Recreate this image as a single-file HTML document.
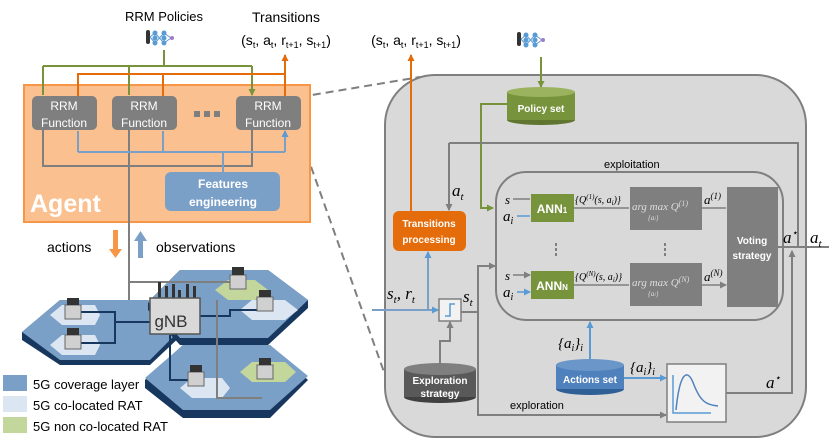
<!DOCTYPE html>
<html><head><meta charset="utf-8"><style>
html,body{margin:0;padding:0;background:#fff}
svg{display:block}
text{font-family:"Liberation Sans",sans-serif}
.m{font-family:"Liberation Serif",serif;font-style:italic}
</style></head><body>
<svg width="830" height="445" viewBox="0 0 830 445" xmlns="http://www.w3.org/2000/svg">
<defs>
<marker id="ag" markerUnits="userSpaceOnUse" markerWidth="7" markerHeight="7" refX="6" refY="3.5" orient="auto"><path d="M0,0L7,3.5L0,7z" fill="#77933c"/></marker>
<marker id="ao" markerUnits="userSpaceOnUse" markerWidth="7" markerHeight="7" refX="6" refY="3.5" orient="auto"><path d="M0,0L7,3.5L0,7z" fill="#e46c0a"/></marker>
<marker id="ab" markerUnits="userSpaceOnUse" markerWidth="7" markerHeight="7" refX="6" refY="3.5" orient="auto"><path d="M0,0L7,3.5L0,7z" fill="#5b9bd5"/></marker>
<marker id="ay" markerUnits="userSpaceOnUse" markerWidth="7" markerHeight="7" refX="6" refY="3.5" orient="auto"><path d="M0,0L7,3.5L0,7z" fill="#7f7f7f"/></marker>
<g id="nn"><rect x="0" y="0" width="4" height="14" fill="#333" rx="2"/><g fill="#5b9bd5"><circle cx="9" cy="3" r="2.5"/><circle cx="9" cy="8" r="2.5"/><circle cx="9" cy="13" r="2.5"/><circle cx="18" cy="3" r="2.5"/><circle cx="18" cy="8" r="2.5"/><circle cx="18" cy="13" r="2.5"/></g><path d="M4,7L9,3M4,7L9,13M9,3L18,13M9,13L18,3M18,3L25,8M18,13L25,8" stroke="#5b9bd5" stroke-width="1"/><circle cx="26" cy="8" r="2" fill="#a07cc5"/></g>
</defs>

<line x1="300" y1="97" x2="420" y2="77" stroke="#7f7f7f" stroke-width="2" stroke-dasharray="8,5"/>
<line x1="298" y1="130" x2="384" y2="372" stroke="#7f7f7f" stroke-width="2" stroke-dasharray="8,5"/>

<text x="164" y="21" font-size="13" text-anchor="middle">RRM Policies</text>
<use href="#nn" x="146" y="30"/>
<text x="286" y="22" font-size="14" text-anchor="middle">Transitions</text>
<text x="286" y="45" font-size="14" text-anchor="middle">(s<tspan font-size="9" dy="3">t</tspan><tspan dy="-3">, a</tspan><tspan font-size="9" dy="3">t</tspan><tspan dy="-3">, r</tspan><tspan font-size="9" dy="3">t+1</tspan><tspan dy="-3">, s</tspan><tspan font-size="9" dy="3">t+1</tspan><tspan dy="-3">)</tspan></text>
<text x="416" y="45" font-size="14" text-anchor="middle">(s<tspan font-size="9" dy="3">t</tspan><tspan dy="-3">, a</tspan><tspan font-size="9" dy="3">t</tspan><tspan dy="-3">, r</tspan><tspan font-size="9" dy="3">t+1</tspan><tspan dy="-3">, s</tspan><tspan font-size="9" dy="3">t+1</tspan><tspan dy="-3">)</tspan></text>

<rect x="24" y="85" width="286" height="137" fill="#fac090" stroke="#f79646" stroke-width="2"/>
<path d="M164,50V66M43,66H252" stroke="#77933c" stroke-width="2" fill="none"/>
<path d="M43,66V95M129,66V95M252,66V95" stroke="#77933c" stroke-width="2" fill="none" marker-end="url(#ag)"/>
<path d="M78,96V74H285M163,96V74" stroke="#e46c0a" stroke-width="2" fill="none"/>
<path d="M285,96V55" stroke="#e46c0a" stroke-width="2" fill="none" marker-end="url(#ao)"/>
<path d="M43,130V166H252V130" stroke="#7f7f7f" stroke-width="2" fill="none"/>
<path d="M129,130V312H148" stroke="#7f7f7f" stroke-width="2" fill="none"/>
<path d="M78,152H285M223,152V172" stroke="#7ba0c8" stroke-width="2" fill="none"/>
<path d="M78,152V131M163,152V131M285,152V131" stroke="#7ba0c8" stroke-width="2" fill="none" marker-end="url(#ab)"/>
<g fill="#7f7f7f"><rect x="32" y="96" width="65" height="34" rx="5"/><rect x="112" y="96" width="65" height="34" rx="5"/><rect x="236" y="96" width="65" height="34" rx="5"/></g>
<g fill="#fff" font-size="12" text-anchor="middle"><text x="64" y="110">RRM</text><text x="64" y="127">Function</text><text x="144" y="110">RRM</text><text x="144" y="127">Function</text><text x="268" y="110">RRM</text><text x="268" y="127">Function</text></g>
<g fill="#7f7f7f"><rect x="194" y="111" width="6" height="6"/><rect x="204" y="111" width="6" height="6"/><rect x="214" y="111" width="6" height="6"/></g>
<rect x="165" y="172" width="115" height="39" rx="6" fill="#7ba0c8"/>
<text x="223" y="188" fill="#fff" font-size="12" font-weight="bold" text-anchor="middle">Features</text>
<text x="223" y="206" fill="#fff" font-size="12" font-weight="bold" text-anchor="middle">engineering</text>
<text x="30" y="212" fill="#fff" font-size="25" font-weight="bold">Agent</text>

<text x="47" y="252" font-size="14">actions</text>
<rect x="113" y="230" width="5" height="20" fill="#f79646"/><path d="M109,249H122L115.5,258z" fill="#f79646"/>
<rect x="138" y="240" width="5" height="18" fill="#7ba0c8"/><path d="M134,241H147L140.5,231z" fill="#7ba0c8"/>
<text x="156" y="252" font-size="14">observations</text>

<g stroke="none">
<polygon points="22,332 60,300 148,300 185,332 150,365 60,365 22,340" fill="#17375e"/>
<polygon points="22,332 60,300 148,300 185,325 150,360 60,360" fill="#7ba0c8"/>
<polygon points="145,380 183,345 270,345 308,380 270,418 183,418 145,388" fill="#17375e"/>
<polygon points="145,378 183,345 270,345 308,376 270,410 183,410" fill="#7ba0c8"/>
<polygon points="148,302 180,270 268,270 308,300 308,308 268,345 180,345 148,310" fill="#17375e"/>
<polygon points="148,302 180,270 268,270 308,300 268,338 180,338" fill="#7ba0c8"/>
<polygon points="50,315 62,305 95,305 100,315 95,325 62,325" fill="#dce6f2"/>
<polygon points="50,345 62,335 95,335 100,345 95,355 62,355" fill="#dce6f2"/>
<polygon points="215,290 228,280 255,280 268,290 255,300 228,300" fill="#c3d69b"/>
<polygon points="240,310 252,300 285,300 298,310 285,320 252,320" fill="#dce6f2"/>
<polygon points="180,388 192,378 222,378 230,388 222,398 192,398" fill="#dce6f2"/>
<polygon points="240,372 252,362 285,362 296,372 285,382 252,382" fill="#c3d69b"/>
</g>
<path d="M80,312H115V322H150M80,343H115V322M200,316H230V310H262M170,335V380H200" stroke="#17375e" stroke-width="2" fill="none"/>
<path d="M129,282H230M217,300V398H262" stroke="#7f7f7f" stroke-width="2" fill="none"/>
<g fill="#d0d0d0" stroke="#666" stroke-width="1">
<rect x="65" y="305" width="16" height="14"/><rect x="65" y="335" width="16" height="14"/><rect x="230" y="275" width="16" height="14"/><rect x="257" y="297" width="16" height="14"/><rect x="188" y="372" width="16" height="14"/><rect x="257" y="365" width="16" height="14"/>
</g>
<g fill="#333"><rect x="67" y="298" width="12" height="7"/><rect x="67" y="328" width="12" height="7"/><rect x="232" y="267" width="12" height="8"/><rect x="259" y="290" width="12" height="7"/><rect x="190" y="365" width="12" height="7"/><rect x="259" y="358" width="12" height="7"/></g>
<g fill="#333"><rect x="158" y="282" width="3" height="20"/><rect x="165" y="286" width="3" height="22"/><rect x="172" y="284" width="3" height="20"/><rect x="178" y="290" width="3" height="16"/><rect x="186" y="284" width="3" height="18"/><rect x="193" y="286" width="3" height="16"/></g>
<rect x="150" y="298" width="50" height="36" fill="#d9d9d9" stroke="#555" stroke-width="1.5"/>
<text x="171" y="327" font-size="17" fill="#333" text-anchor="middle">gNB</text>

<rect x="3" y="375" width="24" height="16" fill="#7ba0c8"/><text x="33" y="389" font-size="13">5G coverage layer</text>
<rect x="3" y="396" width="24" height="16" fill="#dce6f2"/><text x="33" y="410" font-size="13">5G co-located RAT</text>
<rect x="3" y="417" width="24" height="16" fill="#c3d69b"/><text x="33" y="431" font-size="13">5G non co-located RAT</text>

<rect x="385" y="75" width="421" height="362" rx="50" fill="#d9d9d9" stroke="#7f7f7f" stroke-width="2"/>
<use href="#nn" x="517" y="32"/>
<path d="M541,57V87" stroke="#77933c" stroke-width="2" marker-end="url(#ag)"/>
<path d="M507,104H481V208H493" stroke="#77933c" stroke-width="2" fill="none" marker-end="url(#ag)"/>
<ellipse cx="541" cy="120" rx="34" ry="5" fill="#5f7530"/>
<rect x="507" y="92" width="68" height="28" fill="#77933c"/>
<ellipse cx="541" cy="92" rx="34" ry="5" fill="#9bb35f"/>
<text x="541" y="112" font-size="10" font-weight="bold" fill="#fff" text-anchor="middle">Policy set</text>

<path d="M411,211V55" stroke="#e46c0a" stroke-width="2" fill="none" marker-end="url(#ao)"/>
<path d="M449,143H798V247" stroke="#7f7f7f" stroke-width="2" fill="none"/>
<path d="M449,143V210" stroke="#7f7f7f" stroke-width="2" fill="none" marker-end="url(#ay)"/>
<text x="452" y="196" class="m" font-size="17">a<tspan font-size="11" dy="4">t</tspan></text>
<text x="604" y="168" font-size="11">exploitation</text>

<rect x="393" y="211" width="73" height="40" rx="6" fill="#e46c0a"/>
<text x="429" y="227" font-size="10" font-weight="bold" fill="#fff" text-anchor="middle">Transitions</text>
<text x="429" y="243" font-size="10" font-weight="bold" fill="#fff" text-anchor="middle">processing</text>

<rect x="496" y="172" width="287" height="148" rx="30" fill="none" stroke="#7f7f7f" stroke-width="2"/>

<path d="M372,310H438" stroke="#7ba0c8" stroke-width="2" fill="none" marker-end="url(#ab)"/>
<path d="M428,310V252" stroke="#7ba0c8" stroke-width="2" fill="none" marker-end="url(#ab)"/>
<text x="387" y="299" class="m" font-size="17">s<tspan font-size="11" dy="4">t</tspan><tspan dy="-4">, r</tspan><tspan font-size="11" dy="4">t</tspan></text>
<rect x="439" y="299" width="22" height="22" fill="#f2f2f2" stroke="#7f7f7f" stroke-width="1.5"/>
<path d="M445,316H450V304H455" stroke="#5b9bd5" stroke-width="1.5" fill="none"/>
<text x="463" y="302" class="m" font-size="17">s<tspan font-size="11" dy="4">t</tspan></text>
<path d="M461,312H478V266H495" stroke="#7f7f7f" stroke-width="2" fill="none" marker-end="url(#ay)"/>
<path d="M478,312V415H666" stroke="#7f7f7f" stroke-width="2" fill="none" marker-end="url(#ay)"/>
<text x="510" y="409" font-size="11">exploration</text>
<path d="M440,363V341H450V322" stroke="#7f7f7f" stroke-width="2" fill="none" marker-end="url(#ay)"/>

<ellipse cx="440" cy="397" rx="36" ry="6" fill="#404040"/>
<rect x="404" y="369" width="72" height="28" fill="#595959"/>
<ellipse cx="440" cy="369" rx="36" ry="6" fill="#7f7f7f"/>
<text x="440" y="384" font-size="10" font-weight="bold" fill="#fff" text-anchor="middle">Exploration</text>
<text x="440" y="397" font-size="10" font-weight="bold" fill="#fff" text-anchor="middle">strategy</text>

<path d="M513,199H530M513,275H530" stroke="#7f7f7f" stroke-width="1.5" marker-end="url(#ay)"/>
<path d="M517,216H530M517,292H530" stroke="#5b9bd5" stroke-width="1.5" marker-end="url(#ab)"/>
<text x="505" y="204" class="m" font-size="13">s</text>
<text x="503" y="221" class="m" font-size="15">a<tspan font-size="10" dy="3">i</tspan></text>
<text x="505" y="280" class="m" font-size="13">s</text>
<text x="503" y="297" class="m" font-size="15">a<tspan font-size="10" dy="3">i</tspan></text>
<rect x="531" y="194" width="43" height="28" fill="#77933c"/>
<rect x="531" y="271" width="43" height="28" fill="#77933c"/>
<text x="552" y="213" font-size="12" font-weight="bold" fill="#fff" text-anchor="middle">ANN<tspan font-size="8">1</tspan></text>
<text x="552" y="290" font-size="12" font-weight="bold" fill="#fff" text-anchor="middle">ANN<tspan font-size="8">N</tspan></text>
<path d="M574,208H629M574,285H629M702,208H726M702,285H726" stroke="#7f7f7f" stroke-width="1.5" marker-end="url(#ay)"/>
<text x="575" y="203" class="m" font-size="10">{Q<tspan font-size="7" dy="-4">(1)</tspan><tspan dy="4">(s, a</tspan><tspan font-size="7" dy="2">i</tspan><tspan dy="-2">)}</tspan></text>
<text x="575" y="280" class="m" font-size="10">{Q<tspan font-size="7" dy="-4">(N)</tspan><tspan dy="4">(s, a</tspan><tspan font-size="7" dy="2">i</tspan><tspan dy="-2">)}</tspan></text>
<rect x="630" y="187" width="72" height="43" fill="#7f7f7f"/>
<rect x="630" y="263" width="72" height="43" fill="#7f7f7f"/>
<text x="632" y="210" class="m" font-size="11" fill="#ddd">arg max Q<tspan font-size="8" dy="-4">(1)</tspan></text>
<text x="648" y="220" class="m" font-size="7" fill="#ddd">{a<tspan font-size="5">i</tspan>}</text>
<text x="632" y="286" class="m" font-size="11" fill="#ddd">arg max Q<tspan font-size="8" dy="-4">(N)</tspan></text>
<text x="648" y="296" class="m" font-size="7" fill="#ddd">{a<tspan font-size="5">i</tspan>}</text>
<text x="704" y="204" class="m" font-size="13">a<tspan font-size="9" dy="-5">(1)</tspan></text>
<text x="704" y="281" class="m" font-size="13">a<tspan font-size="9" dy="-5">(N)</tspan></text>
<g fill="#7f7f7f"><rect x="555" y="243" width="2" height="3"/><rect x="555" y="248" width="2" height="3"/><rect x="555" y="253" width="2" height="3"/><rect x="664" y="243" width="2" height="3"/><rect x="664" y="248" width="2" height="3"/><rect x="664" y="253" width="2" height="3"/></g>
<rect x="727" y="187" width="51" height="120" fill="#7f7f7f"/>
<text x="752" y="244" font-size="10" font-weight="bold" fill="#fff" text-anchor="middle">Voting</text>
<text x="752" y="259" font-size="10" font-weight="bold" fill="#fff" text-anchor="middle">strategy</text>
<path d="M778,247H829" stroke="#7f7f7f" stroke-width="2"/>
<text x="783" y="243" class="m" font-size="17">a<tspan font-size="10" dy="-7">⋆</tspan></text>
<text x="810" y="243" class="m" font-size="17">a<tspan font-size="11" dy="4">t</tspan></text>

<path d="M590,362V322" stroke="#5b9bd5" stroke-width="2" marker-end="url(#ab)"/>
<text x="558" y="348" class="m" font-size="15">{a<tspan font-size="10" dy="3">i</tspan><tspan dy="-3">}</tspan><tspan font-size="10" dy="3">i</tspan></text>
<ellipse cx="590" cy="389" rx="34" ry="6" fill="#2e5f95"/>
<rect x="556" y="365" width="68" height="24" fill="#4f81bd"/>
<ellipse cx="590" cy="365" rx="34" ry="6" fill="#6b96c9"/>
<text x="590" y="383" font-size="10" font-weight="bold" fill="#fff" text-anchor="middle">Actions set</text>
<path d="M624,378H666" stroke="#5b9bd5" stroke-width="2" marker-end="url(#ab)"/>
<text x="630" y="372" class="m" font-size="15">{a<tspan font-size="10" dy="3">i</tspan><tspan dy="-3">}</tspan><tspan font-size="10" dy="3">i</tspan></text>
<rect x="667" y="364" width="59" height="58" fill="#f2f2f2" stroke="#7f7f7f" stroke-width="1.5"/>
<path d="M673,375V413H711" stroke="#5b9bd5" stroke-width="1.5" fill="none"/>
<path d="M676,410C680,370 688,368 694,385C700,400 705,405 718,406" stroke="#4f81bd" stroke-width="1.5" fill="none"/>
<path d="M726,393H792V251" stroke="#7f7f7f" stroke-width="2" fill="none" marker-end="url(#ay)"/>
<text x="766" y="388" class="m" font-size="17">a<tspan font-size="10" dy="-7">⋆</tspan></text>
</svg>
</body></html>
